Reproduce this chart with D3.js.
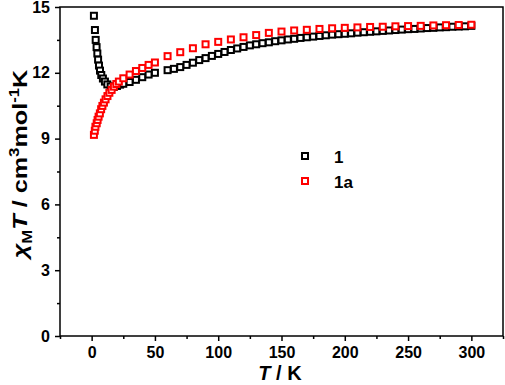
<!DOCTYPE html>
<html>
<head>
<meta charset="utf-8">
<script src="https://cdn.jsdelivr.net/npm/d3@7"></script>
<style>
html,body{margin:0;padding:0;background:#fff;}
svg{display:block;font-family:"Liberation Sans",Arial,sans-serif;}
</style>
</head>
<body>
<svg id="chart" width="505" height="385"></svg>
<script>
// ---- data ----
const T1 = [1.8,2.6,3.2,3.9,4.5,5.1,5.8,6.6,7.6,8.9,10.5,12.4,15,17.5,20,22.5,25,30,35,40,45,50,
  60,65,70,75,80,85,90,95,100,105,110,115,120,125,130,135,140,145,150,155,160,165,170,175,180,185,190,195,200,
  205,210,215,220,225,230,235,240,245,250,255,260,265,270,275,280,285,290,295,300];
const chi1 = [14.6,13.95,13.5,13.17,12.88,12.6,12.33,12.1,11.9,11.74,11.6,11.47,11.38,11.36,11.4,11.46,11.5,11.58,11.68,11.8,11.92,12.0,
  12.12,12.18,12.26,12.36,12.46,12.58,12.67,12.77,12.86,12.95,13.04,13.11,13.18,13.25,13.3,13.35,13.39,13.44,13.48,13.52,13.55,13.59,13.62,13.65,13.68,13.71,13.74,13.76,13.78,
  13.8,13.83,13.85,13.87,13.89,13.91,13.93,13.95,13.97,13.99,14.0,14.02,14.04,14.05,14.07,14.08,14.1,14.11,14.12,14.14];
const T1a = [1.8,2.5,3,4,4.7,5.5,6.5,7.5,8.5,9.7,11,12.5,14,15.8,17.6,19.5,21.5,25,30,35,40,45,50,
  60,70,80,90,100,110,120,130,140,150,160,170,180,190,200,210,220,230,240,250,260,270,280,290,300];
const chi1a = [9.17,9.36,9.54,9.7,9.85,10.0,10.15,10.34,10.49,10.64,10.79,10.94,11.09,11.22,11.37,11.49,11.6,11.75,11.92,12.08,12.22,12.36,12.47,
  12.76,12.94,13.12,13.3,13.41,13.52,13.62,13.72,13.82,13.88,13.93,13.96,14.0,14.03,14.05,14.07,14.09,14.1,14.12,14.13,14.14,14.16,14.17,14.18,14.19];
const seriesNames = ["1","1a"];
const seriesColors = ["#000000","#ff0000"];
const xTicks = [0,50,100,150,200,250,300];
const yTicks = [0,3,6,9,12,15];

// ---- layout ----
const svg = d3.select("#chart");
const L = 60, R = 503, Tp = 7, B = 336;
const x = d3.scaleLinear().domain([-25,325]).range([L,R]);
const y = d3.scaleLinear().domain([0,15]).range([B,Tp]);

// minor ticks
const xMinor = d3.range(-25,326,25).filter(v => !xTicks.includes(v));
const yMinor = d3.range(1.5,15,3);

const gx = svg.append("g").attr("transform",`translate(0,${B})`);
gx.call(d3.axisBottom(x).tickValues(xTicks).tickSize(5).tickPadding(6).tickFormat(d3.format("d")));
const gxm = svg.append("g").attr("transform",`translate(0,${B})`);
gxm.call(d3.axisBottom(x).tickValues(xMinor).tickSize(3).tickFormat(""));
const gy = svg.append("g").attr("transform",`translate(${L},0)`);
gy.call(d3.axisLeft(y).tickValues(yTicks).tickSize(5).tickPadding(5).tickFormat(d3.format("d")));
const gym = svg.append("g").attr("transform",`translate(${L},0)`);
gym.call(d3.axisLeft(y).tickValues(yMinor).tickSize(3).tickFormat(""));
[gx,gxm,gy,gym].forEach(g=>{
  g.select(".domain").remove();
  g.selectAll(".tick line").attr("stroke","#000").attr("stroke-width",1.5);
  g.selectAll(".tick text").attr("font-size",16).attr("font-weight","bold").attr("fill","#000")
   .attr("font-family","Liberation Sans, Arial, sans-serif");
});

// frame
svg.append("rect").attr("x",L).attr("y",Tp).attr("width",R-L).attr("height",B-Tp)
  .attr("fill","none").attr("stroke","#000").attr("stroke-width",1.5);

// markers
function drawSeries(Ts, vals, color){
  svg.append("g").selectAll("rect").data(Ts.map((t,i)=>[t,vals[i]])).join("rect")
    .attr("x",d=>x(d[0])-3).attr("y",d=>y(d[1])-3)
    .attr("width",6).attr("height",6)
    .attr("fill","#fff").attr("stroke",color).attr("stroke-width",2);
}
drawSeries(T1, chi1, seriesColors[0]);
drawSeries(T1a, chi1a, seriesColors[1]);

// legend
const leg = svg.append("g");
seriesNames.forEach((n,i)=>{
  const cy = 156 + i*25;
  leg.append("rect").attr("x",302).attr("y",cy-3).attr("width",6).attr("height",6)
    .attr("fill","#fff").attr("stroke",seriesColors[i]).attr("stroke-width",2);
  leg.append("text").attr("x",334).attr("y",cy+7).attr("font-size",17).attr("font-weight","bold")
    .attr("fill","#000").text(n);
});

// x title
const xt = svg.append("text").attr("x",280).attr("y",380).attr("text-anchor","middle")
  .attr("font-size",20).attr("font-weight","bold").attr("fill","#000");
xt.append("tspan").attr("font-style","italic").text("T");
xt.append("tspan").text(" / K");

// y title
const yt = svg.append("text").attr("transform","translate(27,164) rotate(-90) scale(1.2,1)")
  .attr("text-anchor","middle").attr("font-size",21).attr("font-weight","bold").attr("fill","#000");
yt.append("tspan").attr("font-style","italic").text("χ");
yt.append("tspan").attr("font-size",14).attr("dy",5).text("M");
yt.append("tspan").attr("font-style","italic").attr("dy",-5).text("T");
yt.append("tspan").text(" / cm");
yt.append("tspan").attr("font-size",14).attr("dy",-8).text("3");
yt.append("tspan").attr("dy",8).text("mol");
yt.append("tspan").attr("font-size",14).attr("dy",-8).text("-1");
yt.append("tspan").attr("dy",8).text("K");
</script>
</body>
</html>
